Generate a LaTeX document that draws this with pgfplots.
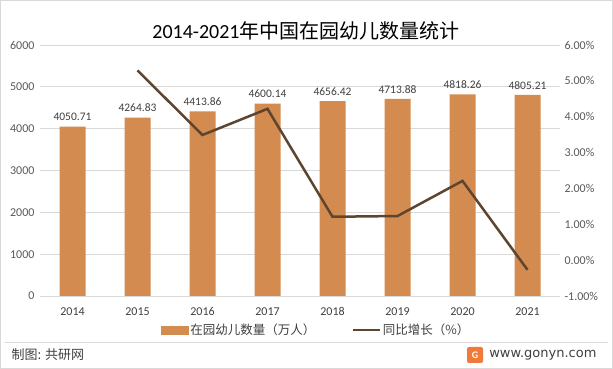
\documentclass[border=0pt]{standalone}
\usepackage{pgfplots}
\pgfplotsset{compat=1.18}
\usepackage{fontspec}
\setmainfont{Carlito}
\newfontfamily\cjk{Noto Sans CJK SC}
\newfontfamily\web{DejaVu Sans}
\definecolor{barc}{HTML}{D48B4F}
\definecolor{linec}{HTML}{5E4530}
\definecolor{gridc}{HTML}{D9D9D9}
\definecolor{txt}{HTML}{404040}
\definecolor{tickc}{HTML}{595959}
\definecolor{logoc}{HTML}{F07A3A}

\pgfplotstableread{
x val label
0 4050.71 4050.71
1 4264.83 4264.83
2 4413.86 4413.86
3 4600.14 4600.14
4 4656.42 4656.42
5 4713.88 4713.88
6 4818.26 4818.26
7 4805.21 4805.21
}\kids

\pgfplotstableread{
x g
1 5.29
2 3.49
3 4.22
4 1.21
5 1.23
6 2.21
7 -0.27
}\growth

\begin{document}
\begin{tikzpicture}[x=1pt,y=1pt]
\fill[white] (0,0) rectangle (613,369);
\draw[gridc] (0.5,0.5) rectangle (612.5,368.5);
\node[font=\fontsize{20}{24}\selectfont, text=black] at (306,338) {2014-2021\cjk 年中国在园幼儿数量统计};

\begin{axis}[
  at={(40pt,73pt)}, anchor=south west, scale only axis,
  width=520pt, height=251pt,
  xmin=-0.5, xmax=7.5, ymin=0, ymax=6000,
  axis line style={draw=none},
  major tick length=0pt,
  xtick={0,...,7},
  xticklabels={2014,2015,2016,2017,2018,2019,2020,2021},
  ytick={0,1000,...,6000},
  ymajorgrids, grid style={gridc, line width=0.8pt},
  /pgf/number format/assume math mode=true,
  /pgf/number format/1000 sep={},
  tick label style={font=\fontsize{12}{14}\selectfont},
  xticklabel style={text=txt, yshift=-8pt},
  yticklabel style={text=tickc, xshift=-2pt},
  clip=false,
]
\addplot[ybar, bar width=26pt, fill=barc, draw=none,
  nodes near coords, point meta=explicit symbolic,
  nodes near coords style={font=\fontsize{11.5}{13}\selectfont, text=txt, yshift=2pt}]
  table[x=x, y=val, meta=label] {\kids};
\end{axis}

\begin{axis}[
  at={(40pt,73pt)}, anchor=south west, scale only axis,
  width=520pt, height=251pt,
  xmin=-0.5, xmax=7.5, ymin=-1, ymax=6,
  axis x line=none,
  axis y line*=right,
  axis line style={draw=none},
  major tick length=0pt,
  ytick={-1,0,...,6},
  yticklabel={\pgfmathprintnumber[fixed,fixed zerofill,precision=2]{\tick}\%},
  /pgf/number format/assume math mode=true,
  yticklabel style={font=\fontsize{12}{14}\selectfont, text=tickc, xshift=1pt},
  clip=false,
  legend columns=2,
  legend style={draw=none, fill=none, at={(0.531,-0.135)}, anchor=center,
    font=\cjk\fontsize{12.5}{14}\selectfont, text=txt,
    /tikz/every even column/.append style={column sep=34pt},
    inner sep=0pt},
]
\addlegendimage{legend image code/.code={\fill[barc] (0pt,-4pt) rectangle (27pt,4pt);}}
\addlegendentry{在园幼儿数量（万人）}
\addplot[linec, line width=2.5pt, mark=none,
  legend image code/.code={\draw[linec,line width=2.5pt] (0pt,0pt) -- (27pt,0pt);}]
  table[x=x, y=g] {\growth};
\addlegendentry{同比增长（\%）}
\end{axis}

\draw[gridc, line width=0.6pt] (5,27) -- (608,27);
\node[anchor=west, font=\cjk\fontsize{13}{15}\selectfont, text=txt] at (8,14) {制图: 共研网};
\fill[logoc, rounded corners=2pt] (467,6) rectangle (483,22);
\node[font=\bfseries\fontsize{10}{10}\selectfont, text=white] at (475,14) {G};
\node[anchor=east, font=\web\fontsize{13}{15}\selectfont, text=txt] at (600,14) {www.gonyn.com};
\end{tikzpicture}
\end{document}
